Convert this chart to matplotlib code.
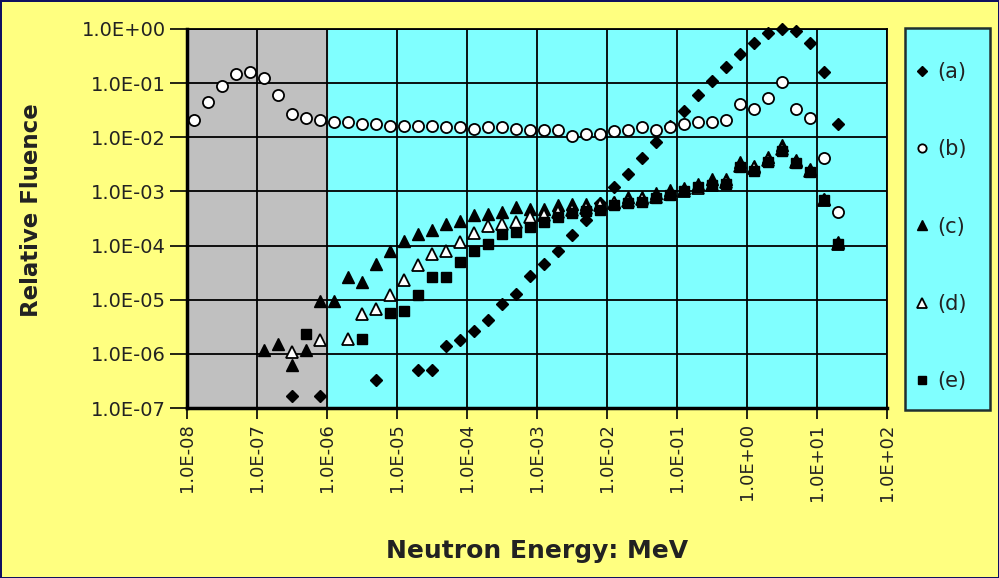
import numpy as np
import matplotlib
matplotlib.use("Agg")
import matplotlib.pyplot as plt
from matplotlib.lines import Line2D
from matplotlib.patches import Rectangle
from matplotlib.ticker import FixedLocator, NullLocator, FuncFormatter

plt.rcParams['font.family'] = ['DejaVu Sans']

# log10 of neutron energy (MeV) and relative fluence for each series
a_logE = [-6.5, -6.1, -5.3, -4.7, -4.5, -4.3, -4.1, -3.9, -3.7, -3.5, -3.3, -3.1,
          -2.9, -2.7, -2.5, -2.3, -2.1, -1.9, -1.7, -1.5, -1.3, -1.1, -0.9, -0.7,
          -0.5, -0.3, -0.1, 0.1, 0.3, 0.5, 0.7, 0.9, 1.1, 1.3]
a_val = [1.7e-7, 1.7e-7, 3.3e-7, 5.0e-7, 5.0e-7, 1.37e-6, 1.8e-6, 2.6e-6, 4.2e-6,
         8.3e-6, 1.3e-5, 2.7e-5, 4.6e-5, 8.1e-5, 1.55e-4, 3.0e-4, 6.0e-4, 1.2e-3,
         2.1e-3, 4.2e-3, 8.2e-3, 1.6e-2, 3.1e-2, 6.0e-2, 0.11, 0.20, 0.345, 0.56,
         0.83, 1.0, 0.93, 0.54, 0.16, 1.74e-2]

b_logE = [-7.9, -7.7, -7.5, -7.3, -7.1, -6.9, -6.7, -6.5, -6.3, -6.1, -5.9, -5.7,
          -5.5, -5.3, -5.1, -4.9, -4.7, -4.5, -4.3, -4.1, -3.9, -3.7, -3.5, -3.3,
          -3.1, -2.9, -2.7, -2.5, -2.3, -2.1, -1.9, -1.7, -1.5, -1.3, -1.1, -0.9,
          -0.7, -0.5, -0.3, -0.1, 0.1, 0.3, 0.5, 0.7, 0.9, 1.1, 1.3]
b_val = [0.021, 0.045, 0.089, 0.147, 0.158, 0.126, 0.060, 0.027, 0.023, 0.021,
         0.019, 0.019, 0.0174, 0.0173, 0.016, 0.016, 0.016, 0.016, 0.0157, 0.0152,
         0.0145, 0.0157, 0.0152, 0.0145, 0.0139, 0.0139, 0.0135, 0.0104, 0.0114,
         0.0114, 0.0129, 0.0135, 0.0152, 0.0139, 0.0152, 0.0174, 0.019, 0.019,
         0.021, 0.042, 0.033, 0.053, 0.105, 0.033, 0.023, 0.0042, 0.00041]

c_logE = [-6.9, -6.7, -6.5, -6.3, -6.1, -5.9, -5.7, -5.5, -5.3, -5.1, -4.9, -4.7,
          -4.5, -4.3, -4.1, -3.9, -3.7, -3.5, -3.3, -3.1, -2.9, -2.7, -2.5, -2.3,
          -2.1, -1.9, -1.7, -1.5, -1.3, -1.1, -0.9, -0.7, -0.5, -0.3, -0.1, 0.1,
          0.3, 0.5, 0.7, 0.9, 1.1, 1.3]
c_val = [1.17e-6, 1.5e-6, 6.3e-7, 1.17e-6, 9.6e-6, 9.6e-6, 2.6e-5, 2.1e-5, 4.6e-5,
         8.1e-5, 1.24e-4, 1.65e-4, 1.9e-4, 2.5e-4, 2.9e-4, 3.6e-4, 3.9e-4, 4.2e-4,
         5.1e-4, 4.8e-4, 4.8e-4, 5.5e-4, 5.9e-4, 5.9e-4, 6.0e-4, 6.5e-4, 7.8e-4,
         7.8e-4, 9.5e-4, 1.05e-3, 1.18e-3, 1.4e-3, 1.7e-3, 1.7e-3, 3.5e-3, 3.0e-3,
         4.3e-3, 7.1e-3, 3.8e-3, 2.6e-3, 7.3e-4, 1.15e-4]

d_logE = [-6.5, -6.1, -5.7, -5.5, -5.3, -5.1, -4.9, -4.7, -4.5, -4.3, -4.1, -3.9,
          -3.7, -3.5, -3.3, -3.1, -2.9, -2.7, -2.5, -2.3, -2.1, -1.9, -1.7, -1.5,
          -1.3, -1.1, -0.9, -0.7, -0.5, -0.3, -0.1, 0.1, 0.3, 0.5, 0.7, 0.9, 1.1,
          1.3]
d_val = [1.1e-6, 1.8e-6, 1.9e-6, 5.4e-6, 6.6e-6, 1.2e-5, 2.3e-5, 4.3e-5, 7.1e-5,
         8.1e-5, 1.15e-4, 1.7e-4, 2.3e-4, 2.5e-4, 2.7e-4, 3.3e-4, 3.6e-4, 4.2e-4,
         4.6e-4, 5.0e-4, 5.5e-4, 6.0e-4, 6.6e-4, 7.2e-4, 8.0e-4, 9.0e-4, 1.0e-3,
         1.15e-3, 1.3e-3, 1.5e-3, 3.0e-3, 2.7e-3, 3.8e-3, 6.0e-3, 3.5e-3, 2.4e-3,
         6.9e-4, 1.06e-4]

e_logE = [-6.3, -5.5, -5.1, -4.9, -4.7, -4.5, -4.3, -4.1, -3.9, -3.7, -3.5, -3.3,
          -3.1, -2.9, -2.7, -2.5, -2.3, -2.1, -1.9, -1.7, -1.5, -1.3, -1.1, -0.9,
          -0.7, -0.5, -0.3, -0.1, 0.1, 0.3, 0.5, 0.7, 0.9, 1.1, 1.3]
e_val = [2.3e-6, 1.9e-6, 5.6e-6, 6.2e-6, 1.24e-5, 2.6e-5, 2.6e-5, 4.9e-5, 8.1e-5,
         1.07e-4, 1.65e-4, 1.8e-4, 2.2e-4, 2.7e-4, 3.3e-4, 4.0e-4, 4.3e-4, 4.6e-4,
         5.5e-4, 6.0e-4, 6.5e-4, 7.5e-4, 8.5e-4, 1.0e-3, 1.2e-3, 1.3e-3, 1.4e-3,
         2.8e-3, 2.4e-3, 3.5e-3, 5.7e-3, 3.3e-3, 2.3e-3, 6.9e-4, 1.06e-4]

labels = ["(a)", "(b)", "(c)", "(d)", "(e)"]
x_ticks = [1e-8, 1e-7, 1e-6, 1e-5, 1e-4, 1e-3, 1e-2, 1e-1, 1e0, 1e1, 1e2]
y_ticks = [1e-7, 1e-6, 1e-5, 1e-4, 1e-3, 1e-2, 1e-1, 1e0]

yellow = '#FFFF80'
cyan = '#80FFFF'
gray = '#C0C0C0'
txt = '#222222'

fig = plt.figure(figsize=(9.99, 5.78), dpi=100, facecolor=yellow,
                 edgecolor='#101060', linewidth=2)
ax = fig.add_axes([187/999, 1-408/578, 700/999, 379/578])
ax.set_facecolor(cyan)
ax.set_xscale('log')
ax.set_yscale('log')
ax.set_xlim(1e-8, 1e2)
ax.set_ylim(1e-7, 1e0)
ax.axvspan(1e-8, 1e-6, color=gray, zorder=0)

styles = [
    dict(marker='D', markersize=6.5, mfc='black', mec='black'),
    dict(marker='o', markersize=8, mfc='white', mec='black', mew=1.3),
    dict(marker='^', markersize=9, mfc='black', mec='black'),
    dict(marker='^', markersize=9, mfc='white', mec='black', mew=1.3),
    dict(marker='s', markersize=7.5, mfc='black', mec='black'),
]
series = [(a_logE, a_val), (b_logE, b_val), (c_logE, c_val),
          (d_logE, d_val), (e_logE, e_val)]
handles = []
for (le, v), st, lab in zip(series, styles, labels):
    ax.plot(10 ** np.array(le), v, linestyle='none', zorder=3, clip_on=False, **st)
    small = dict(st)
    small['markersize'] = st['markersize'] * 0.75
    handles.append(Line2D([], [], linestyle='none', **small))

ax.xaxis.set_major_locator(FixedLocator(x_ticks))
ax.yaxis.set_major_locator(FixedLocator(y_ticks))
ax.xaxis.set_minor_locator(NullLocator())
ax.yaxis.set_minor_locator(NullLocator())
fmt = FuncFormatter(lambda v, p: f"{v:.1E}")
ax.xaxis.set_major_formatter(fmt)
ax.yaxis.set_major_formatter(fmt)
ax.tick_params(axis='y', direction='out', length=12, width=1.2, labelsize=14,
               labelcolor=txt, pad=3)
ax.tick_params(axis='x', direction='out', length=8, width=1.2, labelsize=13,
               labelcolor=txt, pad=3, labelrotation=90)
ax.grid(True, color='black', linewidth=1.3, zorder=1)
ax.set_axisbelow(True)
for s in ['left', 'bottom']:
    ax.spines[s].set_linewidth(2.5)
for s in ['top', 'right']:
    ax.spines[s].set_linewidth(1.3)

ax.set_ylabel("Relative Fluence", fontsize=16.5, fontweight='bold', color=txt)
ax.yaxis.set_label_coords(-0.206, 0.522)
ax.set_xlabel("Neutron Energy: MeV", fontsize=18, fontweight='bold', color=txt)
ax.xaxis.set_label_coords(0.5, -0.345)

# legend frame and entries
fig.add_artist(Rectangle((905/999, 1-410/578), 85/999, 382/578,
                         transform=fig.transFigure, facecolor=cyan,
                         edgecolor='#203030', linewidth=1.8, zorder=0))
leg = fig.legend(handles, labels, loc='upper left',
                 bbox_to_anchor=(916/999, 1-62/578), frameon=False,
                 fontsize=15, labelspacing=2.75, borderpad=0,
                 handlelength=0.6, handletextpad=0.4, borderaxespad=0)
for t in leg.get_texts():
    t.set_color(txt)

plt.savefig("out.png", dpi=100, facecolor=yellow)
